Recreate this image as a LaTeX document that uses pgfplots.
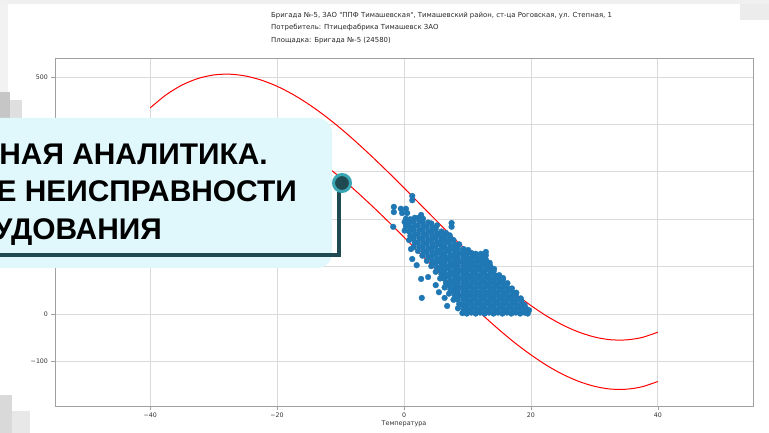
\documentclass[border=0pt]{standalone}
\usepackage{fontspec}
\setmainfont{Liberation Sans}
\newfontfamily\djv{DejaVu Sans}
\usepackage{pgfplots}
\pgfplotsset{compat=1.18}
\definecolor{mblue}{HTML}{1F77B4}
\definecolor{boxfill}{HTML}{E0F8FC}
\definecolor{darkteal}{HTML}{1F4A52}
\definecolor{ringteal}{HTML}{3AA6B4}
\definecolor{gridc}{HTML}{DADADA}
\definecolor{framec}{HTML}{A0A0A0}
\begin{document}
\begin{tikzpicture}
\useasboundingbox (0,0) rectangle (769bp,433bp);
\clip (0,0) rectangle (769bp,433bp);
\fill[white] (0,0) rectangle (769bp,433bp);
% screenshot artifacts
\fill[gray!12] (0,429bp) rectangle (769bp,433bp);
\fill[blue!4!gray!10] (0,315bp) rectangle (8bp,429bp);
\fill[gray!45] (0,315bp) rectangle (10bp,341bp);
\fill[gray!25] (10bp,315bp) rectangle (22bp,333bp);
\fill[gray!30] (0,0) rectangle (12bp,38bp);
\fill[gray!18] (12bp,0) rectangle (30bp,22bp);
\fill[gray!15] (740bp,413bp) rectangle (769bp,429bp);
\begin{axis}[
  at={(55bp,27bp)}, anchor=south west, scale only axis,
  width=698bp, height=348bp,
  xmin=-55, xmax=55, ymin=-194, ymax=540,
  xtick={-40,-20,0,20,40},
  xticklabels={−40,−20,0,20,40},
  ytick={-100,0,100,200,300,400,500},
  yticklabels={−100,0,100,,,,500},
  grid=major,
  grid style={draw=gridc, line width=0.7bp},
  axis line style={draw=framec, line width=0.9bp},
  tick style={draw=framec, line width=0.6bp},
  tick align=outside, tick pos=left,
  major tick length=3.5bp,
  ticklabel style={font=\djv\fontsize{6.3}{7}\selectfont, text=black!80},
  xticklabel style={yshift=0.5bp},
  xlabel={Температура},
  xlabel style={font=\djv\fontsize{6.5}{8}\selectfont, text=black!80, at={(axis description cs:0.5,0)}, anchor=base, yshift=-19bp},
]
\addplot[only marks, mark=*, mark size=2.9bp, mark options={fill=mblue, draw=mblue, line width=0.3bp}] coordinates {
(0.1,176)(0.3,185)(0.1,194)(0.3,201)
(0.8,156)(1.0,165)(0.8,174)(1.0,183)(0.8,192)(1.0,200)
(1.5,141)(1.7,150)(1.5,159)(1.7,168)(1.5,177)(1.7,186)(1.5,195)(1.7,203)
(2.2,133)(2.4,142)(2.2,151)(2.4,160)(2.2,169)(2.4,178)(2.2,187)(2.4,196)(2.3,203)
(2.9,123)(3.1,132)(2.9,141)(3.1,150)(2.9,159)(3.1,168)(2.9,177)(3.1,186)(2.9,195)(3.0,201)
(3.6,112)(3.8,121)(3.6,130)(3.8,139)(3.6,148)(3.8,157)(3.6,166)(3.8,175)(3.6,184)(3.8,193)
(4.3,101)(4.5,110)(4.3,119)(4.5,128)(4.3,137)(4.5,146)(4.3,155)(4.5,164)(4.3,173)(4.5,182)(4.3,191)
(5.0,89)(5.2,98)(5.0,107)(5.2,116)(5.0,125)(5.2,134)(5.0,143)(5.2,152)(5.0,161)(5.2,170)(5.0,179)(5.2,187)
(5.7,75)(5.9,84)(5.7,93)(5.9,102)(5.7,111)(5.9,120)(5.7,129)(5.9,138)(5.7,147)(5.9,156)(5.7,165)(5.9,174)
(6.4,56)(6.6,65)(6.4,74)(6.6,83)(6.4,92)(6.6,101)(6.4,110)(6.6,119)(6.4,128)(6.6,137)(6.4,146)(6.6,155)(6.4,164)(6.6,171)
(7.1,43)(7.3,52)(7.1,61)(7.3,70)(7.1,79)(7.3,88)(7.1,97)(7.3,106)(7.1,115)(7.3,124)(7.1,133)(7.3,142)(7.1,151)(7.3,160)(7.2,166)
(7.8,30)(8.0,39)(7.8,48)(8.0,57)(7.8,66)(8.0,75)(7.8,84)(8.0,93)(7.8,102)(8.0,111)(7.8,120)(8.0,129)(7.8,138)(8.0,147)(7.8,156)
(8.5,12)(8.7,21)(8.5,30)(8.7,39)(8.5,48)(8.7,57)(8.5,66)(8.7,75)(8.5,84)(8.7,93)(8.5,102)(8.7,111)(8.5,120)(8.7,129)(8.5,138)(8.7,147)
(9.2,2)(9.4,11)(9.2,20)(9.4,29)(9.2,38)(9.4,47)(9.2,56)(9.4,65)(9.2,74)(9.4,83)(9.2,92)(9.4,101)(9.2,110)(9.4,119)(9.2,128)(9.4,137)
(9.9,1)(10.1,10)(9.9,19)(10.1,28)(9.9,37)(10.1,46)(9.9,55)(10.1,64)(9.9,73)(10.1,82)(9.9,91)(10.1,100)(9.9,109)(10.1,118)(9.9,127)(10.1,135)
(10.6,3)(10.8,12)(10.6,21)(10.8,30)(10.6,39)(10.8,48)(10.6,57)(10.8,66)(10.6,75)(10.8,84)(10.6,93)(10.8,102)(10.6,111)(10.8,120)(10.6,129)
(11.3,1)(11.5,10)(11.3,19)(11.5,28)(11.3,37)(11.5,46)(11.3,55)(11.5,64)(11.3,73)(11.5,82)(11.3,91)(11.5,100)(11.3,109)(11.5,118)(11.3,127)
(12.0,3)(12.2,12)(12.0,21)(12.2,30)(12.0,39)(12.2,48)(12.0,57)(12.2,66)(12.0,75)(12.2,84)(12.0,93)(12.2,102)(12.0,111)(12.2,120)(12.1,127)
(12.7,1)(12.9,10)(12.7,19)(12.9,28)(12.7,37)(12.9,46)(12.7,55)(12.9,64)(12.7,73)(12.9,82)(12.7,91)(12.9,100)(12.7,109)(12.9,115)
(13.4,3)(13.6,12)(13.4,21)(13.6,30)(13.4,39)(13.6,48)(13.4,57)(13.6,66)(13.4,75)(13.6,84)(13.4,93)(13.6,101)(13.5,108)
(14.1,1)(14.3,10)(14.1,19)(14.3,28)(14.1,37)(14.3,46)(14.1,55)(14.3,64)(14.1,73)(14.3,82)(14.1,90)(14.2,95)
(14.8,3)(15.0,12)(14.8,21)(15.0,30)(14.8,39)(15.0,48)(14.8,57)(15.0,66)(14.8,75)(15.0,82)
(15.5,1)(15.7,10)(15.5,19)(15.7,28)(15.5,37)(15.7,46)(15.5,55)(15.7,64)(15.6,73)
(16.2,3)(16.4,12)(16.2,21)(16.4,30)(16.2,39)(16.4,48)(16.2,57)(16.3,65)
(16.9,1)(17.1,10)(16.9,19)(17.1,28)(16.9,37)(17.1,46)(17.0,54)
(17.6,3)(17.8,12)(17.6,21)(17.8,30)(17.6,39)(17.7,45)
(18.3,1)(18.5,10)(18.3,19)(18.5,28)(18.4,33)
(19.0,3)(19.2,12)(19.0,19)
(19.5,1)(19.7,8)
(-1.6,226)(-1.6,215)(-0.5,222)(0.3,222)(-0.3,213)(0.5,213)(1.3,249)(1.3,240)(2.7,209)
(-1.7,184)(7.5,192)(7.5,184)(1.1,137)(1.3,116)(2.0,103)(2.7,74)(3.8,78)(2.8,34)
(6.8,17)(6.4,34)(5.5,46)(5.0,61)(12.9,131)(12.9,124)(15.6,76)(15.3,68)(18.6,15)
};
\addplot[red, line width=1bp, smooth] coordinates {
(-40,434.7)(-37.5,462.3)(-35,482.8)(-32.5,496.6)(-30,504.2)(-27.5,505.9)(-25,502.1)(-22.5,493.4)
(-20,480.3)(-17.5,463.1)(-15,442.3)(-12.5,418.3)(-10,391.6)(-7.5,362.4)(-5,331.5)(-2.5,299.3)
(0,266)(2.5,232.2)(5,198.3)(7.5,164.8)(10,132.0)(12.5,100.5)(15,70.7)(17.5,42.9)(20,17.9)
(22.5,-4.4)(25,-23.1)(27.5,-37.9)(30,-48.4)(32.5,-54.2)(35,-54.6)(37.5,-49.5)(40,-38.3)
};
\addplot[red, line width=1bp, smooth] coordinates {
(-40,330.7)(-37.5,358.3)(-35,378.8)(-32.5,392.6)(-30,400.2)(-27.5,401.9)(-25,398.1)(-22.5,389.4)
(-20,376.3)(-17.5,359.1)(-15,338.3)(-12.5,314.3)(-10,287.6)(-7.5,258.4)(-5,227.5)(-2.5,195.3)
(0,162)(2.5,128.2)(5,94.3)(7.5,60.8)(10,28)(12.5,-3.5)(15,-33.3)(17.5,-61.1)(20,-86.1)
(22.5,-108.4)(25,-127.1)(27.5,-141.9)(30,-152.4)(32.5,-158.2)(35,-158.6)(37.5,-153.5)(40,-142.3)
};
\end{axis}
% header text
\begin{scope}[every node/.style={font=\djv\fontsize{6.95}{8}\selectfont, text=black!85, inner sep=0pt, anchor=base west}]
\node at (271bp,415bp) {Бригада №-5, ЗАО "ППФ Тимашевская", Тимашевский район, ст-ца Роговская, ул. Степная, 1};
\node at (271bp,403.5bp) {Потребитель: Птицефабрика Тимашевск ЗАО};
\node at (271bp,390.5bp) {Площадка: Бригада №-5 (24580)};
\end{scope}
% overlay
\fill[boxfill, rounded corners=15bp] (-30bp,165bp) rectangle (332bp,315bp);
\draw[darkteal, line width=4.5bp] (-5bp,178bp) -- (339bp,178bp) -- (339bp,245bp);
\draw[ringteal, fill=darkteal, line width=3bp] (342bp,250bp) circle (8.5bp);
\begin{scope}[every node/.style={font=\bfseries\fontsize{30}{34}\selectfont, text=black, inner sep=0pt, anchor=base east}]
\node at (268bp,268bp) {НАЯ АНАЛИТИКА.};
\node at (297bp,231bp) {Е НЕИСПРАВНОСТИ};
\node at (162bp,193.5bp) {УДОВАНИЯ};
\end{scope}
\end{tikzpicture}
\end{document}
